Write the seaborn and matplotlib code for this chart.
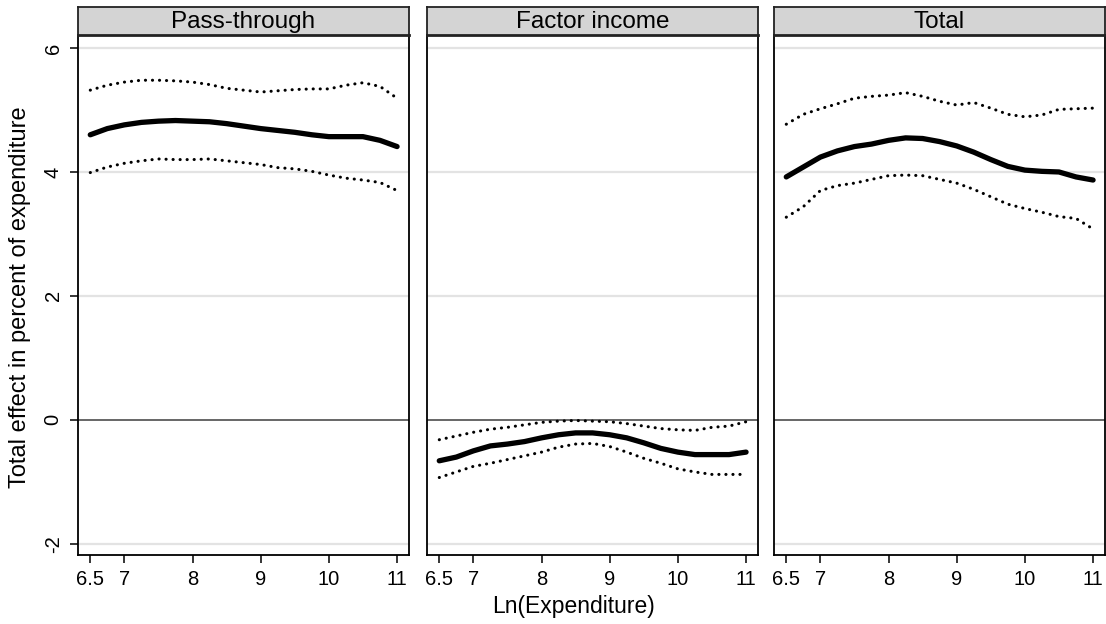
import numpy as np
import pandas as pd
import matplotlib
matplotlib.use("Agg")
import matplotlib.pyplot as plt
import seaborn as sns

# Log expenditure grid shared by all panels
ln_exp = [6.5, 6.75, 7.0, 7.25, 7.5, 7.75, 8.0, 8.25, 8.5, 8.75,
          9.0, 9.25, 9.5, 9.75, 10.0, 10.25, 10.5, 10.75, 11.0]

panels = ["Pass-through", "Factor income", "Total"]

# Pass-through: estimate and confidence band
pass_est = [4.60, 4.70, 4.76, 4.80, 4.82, 4.83, 4.82, 4.81, 4.78, 4.74,
            4.70, 4.67, 4.64, 4.60, 4.57, 4.57, 4.57, 4.51, 4.41]
pass_hi = [5.32, 5.40, 5.45, 5.48, 5.48, 5.47, 5.45, 5.41, 5.35, 5.32,
           5.29, 5.31, 5.33, 5.34, 5.34, 5.40, 5.44, 5.38, 5.19]
pass_lo = [3.99, 4.08, 4.14, 4.18, 4.21, 4.20, 4.20, 4.21, 4.18, 4.15,
           4.12, 4.07, 4.05, 4.01, 3.95, 3.90, 3.87, 3.83, 3.70]

# Factor income: estimate and confidence band
factor_est = [-0.66, -0.60, -0.50, -0.42, -0.39, -0.35, -0.29, -0.24, -0.21, -0.21,
              -0.24, -0.29, -0.37, -0.46, -0.52, -0.56, -0.56, -0.56, -0.52]
factor_hi = [-0.32, -0.26, -0.20, -0.15, -0.12, -0.08, -0.04, -0.02, -0.01, -0.02,
             -0.03, -0.06, -0.10, -0.14, -0.16, -0.17, -0.12, -0.10, -0.03]
factor_lo = [-0.93, -0.84, -0.75, -0.70, -0.64, -0.58, -0.52, -0.44, -0.39, -0.38,
             -0.43, -0.52, -0.62, -0.70, -0.79, -0.84, -0.88, -0.88, -0.88]

# Total: estimate and confidence band
total_est = [3.92, 4.08, 4.24, 4.34, 4.41, 4.45, 4.51, 4.55, 4.54, 4.49,
             4.42, 4.32, 4.20, 4.09, 4.03, 4.01, 4.00, 3.92, 3.87]
total_hi = [4.77, 4.93, 5.02, 5.10, 5.19, 5.22, 5.24, 5.28, 5.22, 5.14,
            5.08, 5.12, 5.03, 4.93, 4.89, 4.92, 5.01, 5.02, 5.03]
total_lo = [3.27, 3.44, 3.70, 3.78, 3.82, 3.88, 3.94, 3.95, 3.94, 3.88,
            3.82, 3.72, 3.60, 3.48, 3.41, 3.35, 3.28, 3.25, 3.08]

x_ticks = [6.5, 7, 8, 9, 10, 11]
x_tick_labels = ["6.5", "7", "8", "9", "10", "11"]
y_ticks = [-2, 0, 2, 4, 6]
y_tick_labels = ["-2", "0", "2", "4", "6"]

series = {
    "Pass-through": (pass_est, pass_hi, pass_lo),
    "Factor income": (factor_est, factor_hi, factor_lo),
    "Total": (total_est, total_hi, total_lo),
}
rows = []
for panel, (est, hi, lo) in series.items():
    for kind, vals in (("est", est), ("hi", hi), ("lo", lo)):
        for xv, yv in zip(ln_exp, vals):
            rows.append({"panel": panel, "kind": kind, "x": xv, "y": yv})
df = pd.DataFrame(rows)

sns.set_theme(style="white")
plt.rcParams["font.family"] = ["Liberation Sans", "DejaVu Sans"]
plt.rcParams["text.color"] = "black"
plt.rcParams["xtick.color"] = "black"
plt.rcParams["ytick.color"] = "black"
plt.rcParams["xtick.labelcolor"] = "black"
plt.rcParams["ytick.labelcolor"] = "black"

W, H = 1106, 624
fig = plt.figure(figsize=(W / 100, H / 100), dpi=100)
fig.patch.set_facecolor("white")

lefts = [78, 427, 774]
width_px = 331
top_px, bottom_px = 35, 555
strip_top = 7

for i, panel in enumerate(panels):
    ax = fig.add_axes([lefts[i] / W, (H - bottom_px) / H,
                       width_px / W, (bottom_px - top_px) / H])
    sub = df[df["panel"] == panel]
    for y in [-2, 2, 4, 6]:
        ax.axhline(y, color="#e3e3e3", lw=1.6, zorder=0)
    ax.axhline(0, color="#4d4d4d", lw=1.2, zorder=1)
    sns.lineplot(data=sub[sub["kind"] == "est"], x="x", y="y", ax=ax,
                 color="black", lw=3.8, solid_capstyle="round",
                 solid_joinstyle="round", zorder=3)
    for k in ("hi", "lo"):
        sns.lineplot(data=sub[sub["kind"] == k], x="x", y="y", ax=ax,
                     color="black", lw=2.2, linestyle=(0, (0.05, 2.25)),
                     dash_capstyle="round", zorder=3)
    ax.set_xlim(6.32, 11.175)
    ax.set_ylim(-2.18, 6.21)
    ax.set_xticks(x_ticks)
    ax.set_xticklabels(x_tick_labels)
    ax.set_xlabel("")
    ax.set_ylabel("")
    ax.tick_params(axis="x", direction="out", length=6, width=1.1,
                   color="black", labelsize=14.5, pad=5, bottom=True)
    if i == 0:
        ax.set_yticks(y_ticks)
        ax.set_yticklabels(y_tick_labels, rotation=90, va="center")
        ax.tick_params(axis="y", direction="out", length=6, width=1.1,
                       color="black", labelsize=14.5, pad=5, left=True)
    else:
        ax.set_yticks(y_ticks)
        ax.tick_params(axis="y", left=False, labelleft=False)
    for s in ax.spines.values():
        s.set_color("black")
        s.set_linewidth(1.3)

    # Facet title strip
    sax = fig.add_axes([lefts[i] / W, (H - top_px) / H,
                        width_px / W, (top_px - strip_top) / H])
    sax.set_facecolor("#d4d4d4")
    sax.set_xticks([])
    sax.set_yticks([])
    for s in sax.spines.values():
        s.set_color("#222222")
        s.set_linewidth(1.3)
    sax.spines["bottom"].set_linewidth(2.0)
    sax.text(0.5, 0.45, panel, ha="center", va="center", fontsize=17.5,
             color="black", transform=sax.transAxes)

fig.text(20 / W, 1 - 297 / H, "Total effect in percent of expenditure",
         rotation=90, ha="center", va="center", fontsize=17)
fig.text(574 / W, 1 - 606 / H, "Ln(Expenditure)", ha="center", va="center",
         fontsize=16.5)

fig.savefig("out.png", dpi=100, facecolor="white")
